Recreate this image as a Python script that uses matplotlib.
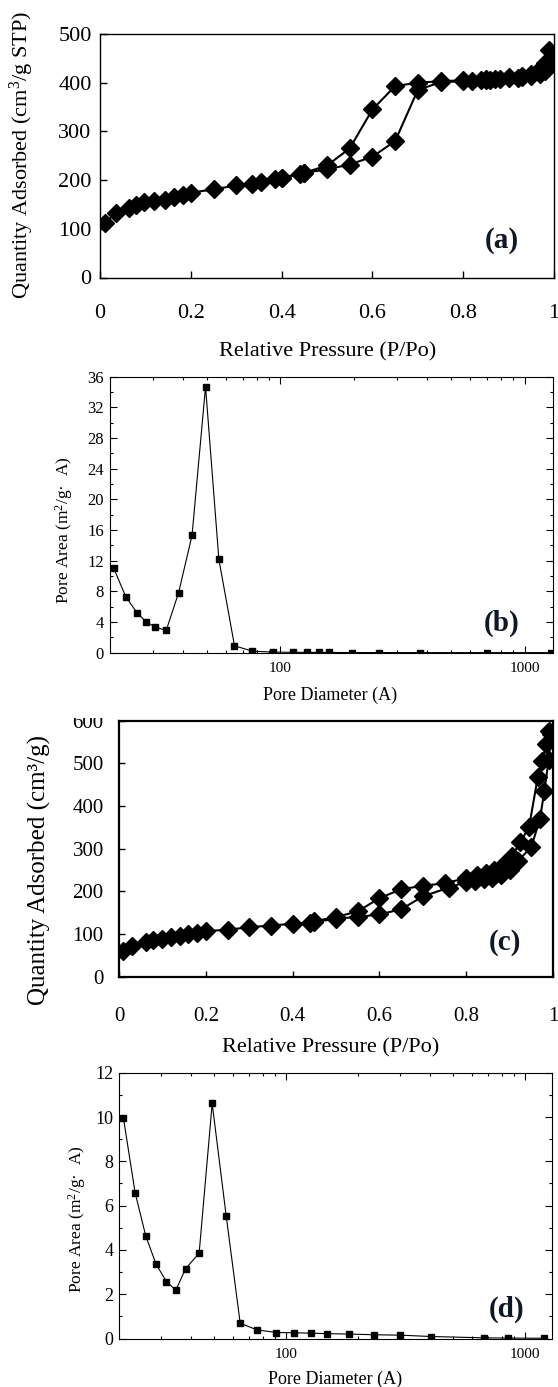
import matplotlib
matplotlib.use("Agg")
import matplotlib.pyplot as plt
from matplotlib.ticker import MultipleLocator, FixedLocator, LogLocator, NullFormatter
from matplotlib.transforms import Bbox, TransformedBbox

plt.rcParams['font.family'] = ['Liberation Serif', 'DejaVu Serif']
plt.rcParams['mathtext.fontset'] = 'custom'
plt.rcParams['mathtext.rm'] = 'Liberation Serif'
plt.rcParams['mathtext.it'] = 'Liberation Serif:italic'
plt.rcParams['mathtext.bf'] = 'Liberation Serif:bold'

# (a) isotherm, sample 1
ads_a_p = [0.01, 0.035, 0.063, 0.079, 0.098, 0.12, 0.143, 0.163, 0.182, 0.2, 0.25, 0.3,
           0.334, 0.354, 0.385, 0.4, 0.44, 0.45, 0.5, 0.55, 0.6, 0.65, 0.7, 0.75, 0.8,
           0.82, 0.84, 0.85, 0.86, 0.87, 0.88, 0.9, 0.92, 0.93, 0.95, 0.97, 0.98, 0.995]
ads_a_q = [111, 133, 142, 148, 155, 158, 160, 166, 170, 174, 181, 189, 193, 196, 203, 205,
           212, 215, 222, 232, 248, 280, 385, 401, 403, 404, 405, 406, 406, 407, 408, 409,
           410, 412, 413, 418, 425, 440]
des_a_p = [0.99, 0.98, 0.97, 0.95, 0.93, 0.9, 0.85, 0.8, 0.75, 0.7, 0.65, 0.6, 0.55, 0.5,
           0.45, 0.4]
des_a_q = [468, 440, 428, 418, 414, 411, 408, 405, 403, 400, 393, 345, 265, 230, 215, 205]

# (b) pore area distribution, sample 1
diam_b = [20.8, 23.3, 25.9, 28.3, 30.7, 34.1, 38.3, 43.5, 49.4, 56.0, 64.9, 76.9, 93.1,
          112.5, 128.8, 143.6, 158.8, 196, 253, 372, 702, 1279]
area_b = [11.0, 7.3, 5.2, 4.0, 3.35, 2.9, 7.8, 15.3, 34.7, 12.2, 0.9, 0.2, 0.08, 0.05,
          0.04, 0.03, 0.03, 0.02, 0.02, 0.01, 0.01, 0.01]

# (c) isotherm, sample 2
ads_c_p = [0.01, 0.03, 0.063, 0.079, 0.10, 0.12, 0.14, 0.16, 0.18, 0.20, 0.25, 0.30, 0.35,
           0.40, 0.44, 0.45, 0.50, 0.55, 0.60, 0.65, 0.70, 0.76, 0.80, 0.82, 0.84, 0.86,
           0.88, 0.90, 0.92, 0.95, 0.97, 0.98, 0.99, 0.995]
ads_c_q = [60, 72, 82, 85, 89, 93, 96, 100, 102, 107, 110, 116, 120, 124, 127, 128, 136,
           140, 146, 158, 188, 209, 222, 225, 228, 232, 238, 250, 272, 304, 370, 435, 508, 570]
des_c_p = [0.99, 0.985, 0.975, 0.965, 0.945, 0.925, 0.905, 0.885, 0.865, 0.845, 0.825,
           0.80, 0.75, 0.70, 0.65, 0.60, 0.55, 0.50, 0.45]
des_c_q = [575, 545, 505, 468, 352, 315, 283, 262, 250, 243, 238, 231, 219, 213, 205, 184,
           153, 140, 130]

# (d) pore area distribution, sample 2
diam_d = [20.8, 23.3, 25.8, 28.5, 31.5, 34.5, 37.9, 43.2, 49.0, 56.1, 64.2, 75.5, 91.0,
          108, 127, 149, 183, 233, 301, 405, 677, 847, 1208]
area_d = [9.97, 6.58, 4.64, 3.36, 2.57, 2.18, 3.15, 3.85, 10.61, 5.53, 0.69, 0.39, 0.27,
          0.26, 0.24, 0.22, 0.20, 0.17, 0.15, 0.09, 0.03, 0.02, 0.01]

W, H = 558, 1387
fig = plt.figure(figsize=(W / 100, H / 100), dpi=100)


def px_axes(left, top, right, bottom):
    return fig.add_axes([left / W, 1 - bottom / H, (right - left) / W, (bottom - top) / H])


def px_text(x, y, s, **kw):
    return fig.text(x / W, 1 - y / H, s, ha='center', va='center', **kw)


label_col = '#101828'

# ---- (a)
ax = px_axes(100, 34, 554, 277.5)
ax.plot(ads_a_p, ads_a_q, '-D', color='k', lw=1.5, ms=9.5)
ax.plot(des_a_p, des_a_q, '-D', color='k', lw=1.5, ms=9.5)
ax.set_xlim(0, 1)
ax.set_ylim(0, 500)
ax.yaxis.set_major_locator(MultipleLocator(100))
ax.set_xticks([0, 0.2, 0.4, 0.6, 0.8, 1.0], ['0', '0.2', '0.4', '0.6', '0.8', '1'])
ax.tick_params(direction='in', length=5, width=1, labelsize=16)
ax.tick_params(axis='x', pad=19)
ax.tick_params(axis='y', pad=6)
for s in ax.spines.values():
    s.set_linewidth(1.0)
px_text(22, 155, 'Quantity Adsorbed (cm$^3$/g STP)', rotation=90, fontsize=16)
px_text(328, 352, 'Relative Pressure (P/Po)', fontsize=16)
px_text(502, 240, '(a)', fontsize=21, fontweight='bold', color=label_col)


def psd_axes(ax, diam, area, ymax, ymaj, ymin, ylab_size, xlab_size):
    ax.plot(diam, area, '-s', color='k', lw=0.8, ms=4.5)
    ax.set_xscale('log')
    ax.set_xlim(20, 1300)
    ax.set_ylim(0, ymax)
    ax.xaxis.set_major_locator(FixedLocator([100, 1000]))
    ax.xaxis.set_minor_locator(LogLocator(subs=range(2, 10)))
    ax.xaxis.set_minor_formatter(NullFormatter())
    ax.set_xticklabels(['100', '1000'])
    ax.yaxis.set_major_locator(MultipleLocator(ymaj))
    ax.yaxis.set_minor_locator(MultipleLocator(ymin))
    ax.tick_params(which='both', direction='in', top=True, right=True, width=0.8)
    ax.tick_params(which='major', length=5)
    ax.tick_params(which='minor', length=2.5)
    ax.tick_params(axis='y', labelsize=ylab_size, pad=4)
    ax.tick_params(axis='x', labelsize=xlab_size, pad=6.5)
    for s in ax.spines.values():
        s.set_linewidth(0.8)


# ---- (b)
ax = px_axes(109.6, 376.7, 552.5, 652.7)
psd_axes(ax, diam_b, area_b, 36, 4, 2, 12, 11)
px_text(64, 530, 'Pore Area (m$^2$/g·  A)', rotation=90, fontsize=12.5)
px_text(330, 695, 'Pore Diameter (A)', fontsize=13)
px_text(502, 623, '(b)', fontsize=21, fontweight='bold', color=label_col)

# ---- (c)
ax = px_axes(119, 720.7, 553, 976.7)
ax.plot(ads_c_p, ads_c_q, '-D', color='k', lw=1.5, ms=9.5)
ax.plot(des_c_p, des_c_q, '-D', color='k', lw=1.5, ms=9.5)
ax.set_xlim(0, 1)
ax.set_ylim(0, 600)
ax.set_xticks([0, 0.2, 0.4, 0.6, 0.8, 1.0], ['0', '0.2', '0.4', '0.6', '0.8', '1'])
ax.set_yticks([0, 100, 200, 300, 400, 500, 600])
ax.tick_params(direction='in', length=4, width=1, labelsize=15)
ax.tick_params(axis='x', pad=22)
ax.tick_params(axis='y', pad=11)
for s in ax.spines.values():
    s.set_linewidth(1.6)
# the top label is cut off by the panel above
clip = TransformedBbox(Bbox.from_extents(0, 0, 1, 1 - 718 / H), fig.transFigure)
for t in ax.get_yticklabels():
    t.set_clip_box(clip)
    t.set_clip_on(True)
px_text(39, 870, 'Quantity Adsorbed (cm³/g)', rotation=90, fontsize=18)
px_text(331, 1048, 'Relative Pressure (P/Po)', fontsize=16)
px_text(505, 943, '(c)', fontsize=21, fontweight='bold', color=label_col)

# ---- (d)
ax = px_axes(119.3, 1072.7, 552, 1338.5)
psd_axes(ax, diam_d, area_d, 12, 2, 1, 13, 11)
px_text(77, 1219, 'Pore Area (m$^2$/g·  A)', rotation=90, fontsize=12.5)
px_text(335, 1379, 'Pore Diameter (A)', fontsize=13)
px_text(507, 1309, '(d)', fontsize=21, fontweight='bold', color=label_col)

fig.savefig('out.png', dpi=100)
